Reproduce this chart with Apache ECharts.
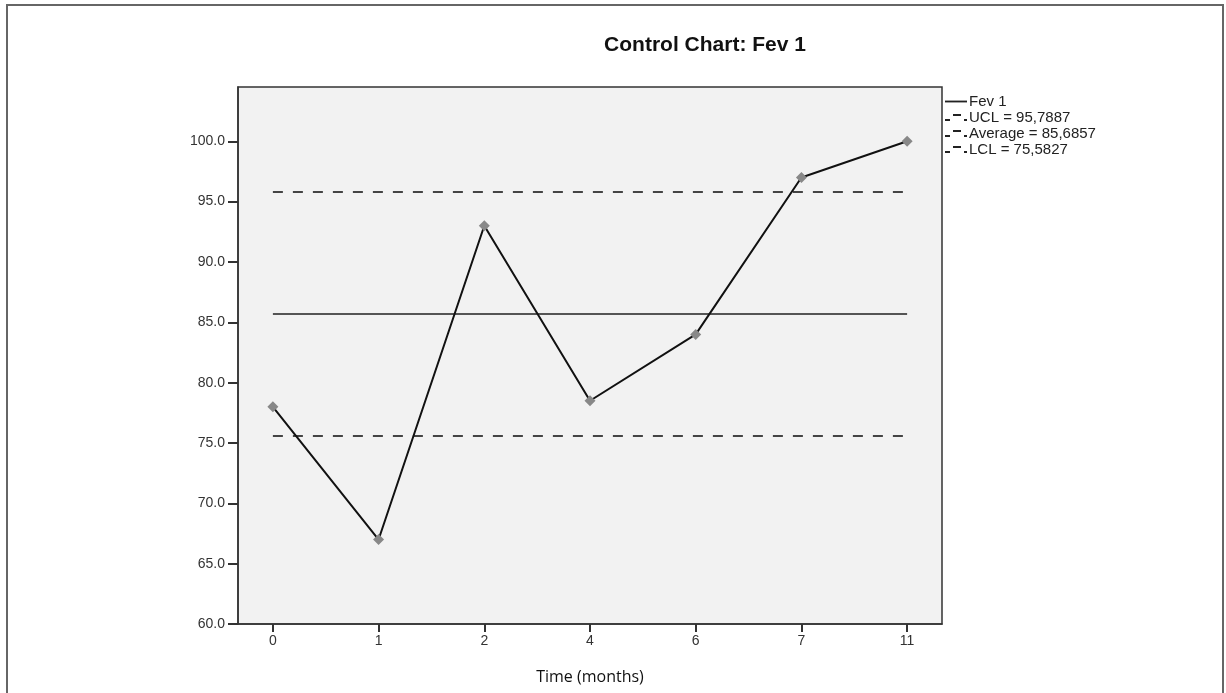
<!DOCTYPE html>
<html>
<head>
<meta charset="utf-8">
<script src="https://cdn.jsdelivr.net/npm/echarts@6/dist/echarts.min.js"></script>
<style>
html,body{margin:0;padding:0;background:#fff;}
#c{width:1226px;height:693px;}
</style>
</head>
<body>
<div id="c"></div>
<script>
var categories = ['0', '1', '2', '4', '6', '7', '11'];
var fevValues = [78, 67, 93, 78.5, 84, 97, 100];
var uclValue = 95.7887;
var avgValue = 85.6857;
var lclValue = 75.5827;
var uclLabel = 'UCL = 95,7887';
var avgLabel = 'Average = 85,6857';
var lclLabel = 'LCL = 75,5827';
var yTicks = [60, 65, 70, 75, 80, 85, 90, 95, 100];

function pts(vals) { return vals.map(function (v, i) { return [i, v]; }); }
function flat(v) { return categories.map(function (c, i) { return [i, v]; }); }
var idx = categories.map(function (c, i) { return i; });

var chart = echarts.init(document.getElementById('c'), null, { renderer: 'canvas' });
var lineIcon = 'path://M0,4 L24,4 L24,6 L0,6 Z';
var dashIcon = 'path://M0,6 L5,6 L5,8 L0,8 Z M8,1 L16,1 L16,3 L8,3 Z M19,6 L22,6 L22,8 L19,8 Z';
chart.setOption({
  animation: false,
  backgroundColor: '#fff',
  title: {
    text: 'Control Chart: Fev 1',
    left: 700, top: 30, textAlign: 'center',
    textStyle: { fontFamily: 'Liberation Sans, Arial', fontSize: 21, fontWeight: 'bold', color: '#111' }
  },
  graphic: [{
    type: 'rect', shape: { x: 7, y: 5, width: 1216, height: 700 },
    style: { fill: 'none', stroke: '#666', lineWidth: 2 }, silent: true, z: -1
  }],
  legend: {
    orient: 'vertical', left: 940, top: 89, itemGap: 1, itemWidth: 22, itemHeight: 10,
    textStyle: { fontFamily: 'Liberation Sans, Arial', fontSize: 15, color: '#222', padding: [0, 0, 0, -3] },
    data: [
      { name: 'Fev 1', icon: lineIcon },
      { name: uclLabel, icon: dashIcon },
      { name: avgLabel, icon: dashIcon },
      { name: lclLabel, icon: dashIcon }
    ],
    itemStyle: { color: '#222' }
  },
  grid: {
    left: 238, right: 284, top: 87, bottom: 69,
    show: true, backgroundColor: '#f2f2f2', borderColor: '#333', borderWidth: 1.5
  },
  xAxis: {
    type: 'value', min: -0.33, max: 6.33,
    name: 'Time (months)', nameLocation: 'middle', nameGap: 45,
    nameTextStyle: { fontFamily: 'Open Sans, Liberation Sans', fontSize: 16, color: '#111' },
    axisLine: { show: true, onZero: false, lineStyle: { color: '#333', width: 1.5 } },
    axisTick: { show: true, length: 8, customValues: idx, lineStyle: { color: '#333', width: 2 } },
    axisLabel: {
      customValues: idx, margin: 10,
      formatter: function (v) { return categories[Math.round(v)]; },
      fontFamily: 'Liberation Sans, Arial', fontSize: 14, color: '#333'
    },
    splitLine: { show: false }
  },
  yAxis: {
    type: 'value', min: 60, max: 104.5, interval: 5,
    axisLine: { show: true, onZero: false, lineStyle: { color: '#333', width: 1.5 } },
    axisTick: { show: true, length: 10, customValues: yTicks, lineStyle: { color: '#333', width: 2 } },
    axisLabel: {
      customValues: yTicks, margin: 13,
      formatter: function (v) { return v.toFixed(1); },
      fontFamily: 'Liberation Sans, Arial', fontSize: 14, color: '#333'
    },
    splitLine: { show: false }
  },
  series: [
    {
      name: 'Fev 1', type: 'line', data: pts(fevValues),
      symbol: 'diamond', symbolSize: 11,
      lineStyle: { color: '#111', width: 2 },
      itemStyle: { color: '#888' }, z: 5
    },
    {
      name: uclLabel, type: 'line', data: flat(uclValue), showSymbol: false, symbol: 'none',
      lineStyle: { color: '#444', width: 2, type: [10, 10] }, itemStyle: { color: '#444' }
    },
    {
      name: avgLabel, type: 'line', data: flat(avgValue), showSymbol: false, symbol: 'none',
      lineStyle: { color: '#222', width: 1.5 }, itemStyle: { color: '#222' }
    },
    {
      name: lclLabel, type: 'line', data: flat(lclValue), showSymbol: false, symbol: 'none',
      lineStyle: { color: '#444', width: 2, type: [10, 10] }, itemStyle: { color: '#444' }
    }
  ]
});
</script>
</body>
</html>
